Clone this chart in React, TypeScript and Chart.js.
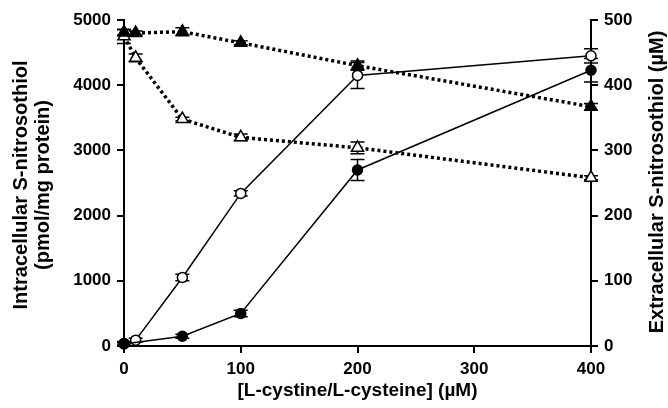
import React, { useEffect, useRef } from "react";
import { Chart, registerables } from "chart.js";
Chart.register(...registerables);

// ---- data ----
const openCircleX = [0, 10, 50, 100, 200, 400];
const openCircleY = [40, 90, 1050, 2340, 4150, 4450];
const openCircleErr = [30, 30, 50, 40, 200, 110];

const filledCircleX = [0, 50, 100, 200, 400];
const filledCircleY = [30, 150, 500, 2700, 4230];
const filledCircleErr = [20, 30, 50, 160, 180];

const filledTriX = [0, 10, 50, 100, 200, 400];
const filledTriY = [481, 480, 482, 465, 430, 367];
const filledTriErr = [4, 3, 6, 3, 7, 5];

const openTriX = [0, 10, 50, 100, 200, 400];
const openTriY = [475, 442, 348, 320, 304, 258];
const openTriErr = [11, 6, 3, 5, 9, 3];

const xTicks = [0, 100, 200, 300, 400];
const xTitle = "[L-cystine/L-cysteine] (µM)";
const leftTitle = ["Intracellular S-nitrosothiol", "(pmol/mg protein)"];
const rightTitle = "Extracellular S-nitrosothiol (µM)";

const FONT = "'Liberation Sans', Arial, sans-serif";

const pts = (xs: number[], ys: number[]) => xs.map((x, i) => ({ x, y: ys[i] }));

const errorBarPlugin = {
  id: "errbars",
  beforeDatasetsDraw(chart: any) {
    const ctx = chart.ctx;
    chart.data.datasets.forEach((ds: any, di: number) => {
      const meta = chart.getDatasetMeta(di);
      const ys = chart.scales[ds.yAxisID];
      ctx.save();
      ctx.strokeStyle = "#000";
      ctx.lineWidth = 1.5;
      meta.data.forEach((el: any, i: number) => {
        const e = ds.errors[i];
        const v = ds.data[i].y;
        const x = el.x;
        const y1 = ys.getPixelForValue(v + e);
        const y2 = ys.getPixelForValue(v - e);
        ctx.beginPath();
        ctx.moveTo(x, y1);
        ctx.lineTo(x, y2);
        ctx.moveTo(x - 7, y1);
        ctx.lineTo(x + 7, y1);
        ctx.moveTo(x - 7, y2);
        ctx.lineTo(x + 7, y2);
        ctx.stroke();
      });
      ctx.restore();
    });
  },
};

const titlePlugin = {
  id: "titles",
  afterDraw(chart: any) {
    const ctx = chart.ctx;
    const a = chart.chartArea;
    ctx.save();
    ctx.fillStyle = "#000";
    ctx.textAlign = "center";
    ctx.textBaseline = "middle";
    ctx.font = `bold 19px ${FONT}`;
    ctx.fillText(xTitle, (a.left + a.right) / 2, 391);
    ctx.font = `bold 20px ${FONT}`;
    ctx.save();
    ctx.translate(21, 185);
    ctx.rotate(-Math.PI / 2);
    ctx.fillText(leftTitle[0], 0, 0);
    ctx.restore();
    ctx.save();
    ctx.translate(43, 185);
    ctx.rotate(-Math.PI / 2);
    ctx.fillText(leftTitle[1], 0, 0);
    ctx.restore();
    ctx.save();
    ctx.translate(657, 182);
    ctx.rotate(-Math.PI / 2);
    ctx.fillText(rightTitle, 0, 0);
    ctx.restore();
    ctx.restore();
  },
};

export default function App() {
  const ref = useRef<HTMLCanvasElement>(null);
  useEffect(() => {
    if (!ref.current) return;
    const tickFont = { family: FONT, size: 17, weight: "bold" as const };
    const plain = (v: any) => String(v);
    const axisCommon = {
      border: { display: true, color: "#000", width: 2 },
      grid: { display: true, drawOnChartArea: false, color: "#000", lineWidth: 2, tickLength: 7 },
    };
    const chart = new Chart(ref.current, {
      type: "line",
      data: {
        datasets: [
          {
            label: "filledTri",
            data: pts(filledTriX, filledTriY),
            errors: filledTriErr,
            yAxisID: "y1",
            borderColor: "#000",
            borderWidth: 3.5,
            borderDash: [3, 3],
            pointStyle: "triangle",
            pointRadius: 7,
            pointBackgroundColor: "#000",
            pointBorderColor: "#000",
            pointBorderWidth: 1.5,
            fill: false,
          } as any,
          {
            label: "openTri",
            data: pts(openTriX, openTriY),
            errors: openTriErr,
            yAxisID: "y1",
            borderColor: "#000",
            borderWidth: 3.5,
            borderDash: [3, 3],
            pointStyle: "triangle",
            pointRadius: 7,
            pointBackgroundColor: "#fff",
            pointBorderColor: "#000",
            pointBorderWidth: 1.5,
            fill: false,
          } as any,
          {
            label: "filledCircle",
            data: pts(filledCircleX, filledCircleY),
            errors: filledCircleErr,
            yAxisID: "y",
            borderColor: "#000",
            borderWidth: 1.5,
            pointStyle: "circle",
            pointRadius: 5,
            pointBackgroundColor: "#000",
            pointBorderColor: "#000",
            pointBorderWidth: 1.5,
            fill: false,
          } as any,
          {
            label: "openCircle",
            data: pts(openCircleX, openCircleY),
            errors: openCircleErr,
            yAxisID: "y",
            borderColor: "#000",
            borderWidth: 1.5,
            pointStyle: "circle",
            pointRadius: 5,
            pointBackgroundColor: "#fff",
            pointBorderColor: "#000",
            pointBorderWidth: 1.5,
            fill: false,
          } as any,
        ],
      },
      options: {
        responsive: false,
        animation: false,
        clip: false as any,
        layout: { padding: { top: 20, left: 0, right: 0, bottom: 0 } },
        plugins: { legend: { display: false }, tooltip: { enabled: false } },
        scales: {
          x: {
            type: "linear",
            min: 0,
            max: 400,
            ...axisCommon,
            afterFit: (s: any) => { s.height = 62; },
            afterBuildTicks: (s: any) => { s.ticks = xTicks.map((v) => ({ value: v })); },
            ticks: { font: tickFont, color: "#000", padding: 6, callback: plain },
          },
          y: {
            type: "linear",
            position: "left",
            min: 0,
            max: 5000,
            ...axisCommon,
            afterFit: (s: any) => { s.width = 124; },
            ticks: { stepSize: 1000, font: tickFont, color: "#000", padding: 6, callback: plain },
          },
          y1: {
            type: "linear",
            position: "right",
            min: 0,
            max: 500,
            ...axisCommon,
            afterFit: (s: any) => { s.width = 77; },
            ticks: { stepSize: 100, font: tickFont, color: "#000", padding: 6, callback: plain },
          },
        },
      } as any,
      plugins: [errorBarPlugin, titlePlugin],
    });
    return () => chart.destroy();
  }, []);
  return (
    <div style={{ position: "absolute", left: 0, top: 0, width: 668, height: 408, background: "#fff" }}>
      <canvas ref={ref} width={668} height={408} style={{ width: 668, height: 408 }} />
    </div>
  );
}
